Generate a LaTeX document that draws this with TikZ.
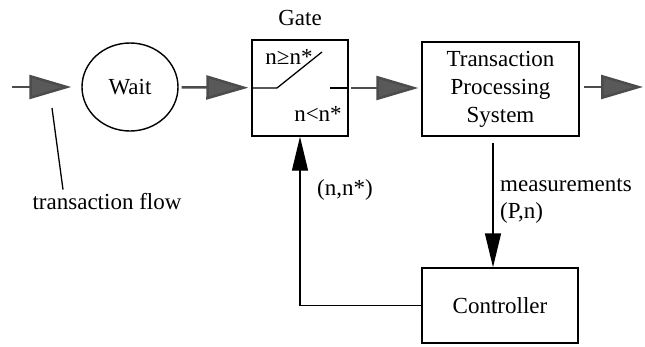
\documentclass[tikz,border=0pt]{standalone}
\usepackage{fontspec}
\setmainfont{Liberation Serif}
\usetikzlibrary{arrows.meta,shapes.geometric,calc}
\begin{document}
\begin{tikzpicture}[x=1pt,y=-1pt,
  every node/.style={font=\fontsize{23}{28}\selectfont, inner sep=0pt},
  box/.style={draw, line width=1.4pt, anchor=center},
  flow/.style={line width=2.5pt, draw=black!70, -{Triangle[length=42pt,width=24pt,fill=black!65]}},
  sig/.style={line width=1.4pt, -{Triangle[length=34pt,width=16pt]}},
  lead/.style={line width=1.3pt}]
\useasboundingbox (0,0) rectangle (645,346);
% main blocks
\node[box, ellipse, minimum width=96pt, minimum height=88pt] (wait) at (130,87) {Wait};
\node[box, minimum width=96pt, minimum height=96pt] (gate) at (300,88) {};
\node[box, minimum width=157pt, minimum height=94pt, align=center] (tps) at (500.5,89) {Transaction\\Processing\\System};
\node[box, minimum width=156pt, minimum height=75pt] (ctrl) at (500,305.5) {Controller};
% labels
\node (gatelbl) at (300,18) {Gate};
\node (ge) at (289,57) {n≥n*};
\node (lt) at (318,114) {n<n*};
\node (nn) at (345,190) {(n,n*)};
\node[anchor=west] (meas) at (500,185) {measurements};
\node[anchor=west] (pn) at (500,213) {(P,n)};
\node (tf) at (107,202) {transaction flow};
% gate switch
\coordinate (sw1) at (277,88);
\coordinate (sw2) at (322,52);
\coordinate (sw3) at (330,88);
\draw[lead] (gate.west) -- (sw1) -- (sw2);
\draw[lead] (sw3) -- (gate.east);
% flow arrows
\coordinate (in) at (12,87);
\coordinate (out) at (643,87);
\draw[flow, shorten >=10pt] (in) -- (wait);
\draw[flow, shorten <=3pt, shorten >=3pt] (wait) -- (gate);
\draw[flow, shorten <=2pt, shorten >=3pt] (gate.east) -- (tps.west |- gate.east);
\draw[flow, shorten <=4pt] (tps.east |- out) -- (out);
% measurement and feedback
\coordinate (m1) at (493,143);
\draw[sig] (m1) -- (ctrl.north -| m1);
\draw[sig] (ctrl.west) -| (gate.south);
% leader for transaction flow
\coordinate (ld) at (52,108);
\draw[lead] (ld) -- ([xshift=-44pt,yshift=4pt]tf.north);
\end{tikzpicture}
\end{document}
